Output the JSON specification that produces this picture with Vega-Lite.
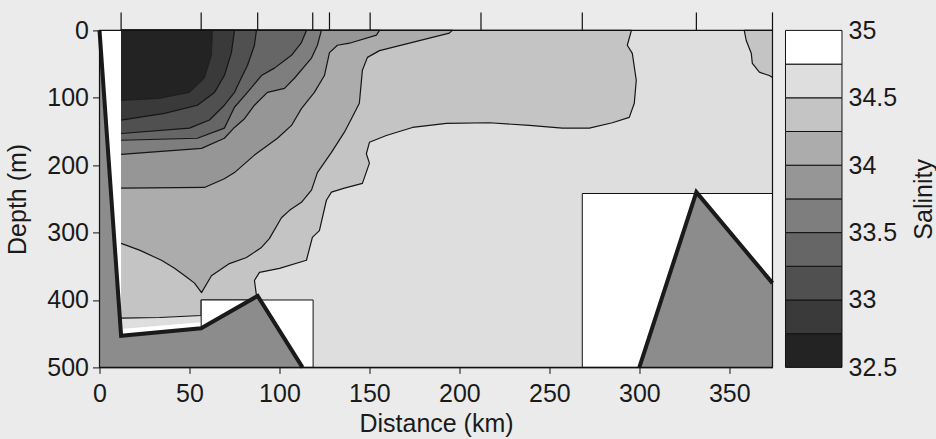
{
  "$schema": "https://vega.github.io/schema/vega-lite/v6.json",
  "autosize": {"type": "pad"},
  "padding": {"left": 5.5, "top": 9.4, "right": 0, "bottom": 4},
  "background": "#ebebeb",
  "bounds": "flush",
  "spacing": 13,
  "config": {
    "view": {"fill": "white", "stroke": null},
    "font": "Liberation Sans",
    "axis": {
      "labelFont": "Liberation Sans", "titleFont": "Liberation Sans",
      "labelFontSize": 25, "titleFontSize": 25, "titleFontWeight": "normal",
      "labelColor": "#1a1a1a", "titleColor": "#1a1a1a",
      "domainColor": "#111", "tickColor": "#111", "grid": false, "labelFlush": false
    }
  },
  "datasets": {
    "poly": [
      {"poly":"p1","band":32.5,"ord":0,"km":12,"m":0},{"poly":"p1","band":32.5,"ord":1,"km":62.8,"m":0},{"poly":"p1","band":32.5,"ord":2,"km":62.2,"m":37},{"poly":"p1","band":32.5,"ord":3,"km":58.3,"m":71},{"poly":"p1","band":32.5,"ord":4,"km":50,"m":92},{"poly":"p1","band":32.5,"ord":5,"km":33.3,"m":101},{"poly":"p1","band":32.5,"ord":6,"km":12,"m":104},
      {"poly":"p2","band":32.75,"ord":0,"km":12,"m":0},{"poly":"p2","band":32.75,"ord":1,"km":75,"m":0},{"poly":"p2","band":32.75,"ord":2,"km":73.3,"m":33},{"poly":"p2","band":32.75,"ord":3,"km":69.4,"m":67},{"poly":"p2","band":32.75,"ord":4,"km":63.9,"m":92},{"poly":"p2","band":32.75,"ord":5,"km":54.4,"m":111},{"poly":"p2","band":32.75,"ord":6,"km":36.1,"m":123},{"poly":"p2","band":32.75,"ord":7,"km":12,"m":133},
      {"poly":"p3","band":33,"ord":0,"km":12,"m":0},{"poly":"p3","band":33,"ord":1,"km":87.2,"m":0},{"poly":"p3","band":33,"ord":2,"km":86.1,"m":22},{"poly":"p3","band":33,"ord":3,"km":82.2,"m":52},{"poly":"p3","band":33,"ord":4,"km":76.7,"m":82},{"poly":"p3","band":33,"ord":5,"km":75,"m":92},{"poly":"p3","band":33,"ord":6,"km":69.4,"m":111},{"poly":"p3","band":33,"ord":7,"km":61.1,"m":133},{"poly":"p3","band":33,"ord":8,"km":50,"m":145},{"poly":"p3","band":33,"ord":9,"km":12,"m":153},
      {"poly":"p4","band":33.25,"ord":0,"km":12,"m":0},{"poly":"p4","band":33.25,"ord":1,"km":115,"m":0},{"poly":"p4","band":33.25,"ord":2,"km":112.2,"m":18},{"poly":"p4","band":33.25,"ord":3,"km":106.7,"m":37},{"poly":"p4","band":33.25,"ord":4,"km":97.2,"m":56},{"poly":"p4","band":33.25,"ord":5,"km":90,"m":67},{"poly":"p4","band":33.25,"ord":6,"km":82.2,"m":92},{"poly":"p4","band":33.25,"ord":7,"km":75,"m":114},{"poly":"p4","band":33.25,"ord":8,"km":69.4,"m":145},{"poly":"p4","band":33.25,"ord":9,"km":54.4,"m":160},{"poly":"p4","band":33.25,"ord":10,"km":12,"m":163},
      {"poly":"p5","band":33.5,"ord":0,"km":12,"m":0},{"poly":"p5","band":33.5,"ord":1,"km":123.3,"m":0},{"poly":"p5","band":33.5,"ord":2,"km":121.1,"m":22},{"poly":"p5","band":33.5,"ord":3,"km":117.8,"m":41},{"poly":"p5","band":33.5,"ord":4,"km":108.3,"m":71},{"poly":"p5","band":33.5,"ord":5,"km":102.8,"m":86},{"poly":"p5","band":33.5,"ord":6,"km":93.3,"m":92},{"poly":"p5","band":33.5,"ord":7,"km":86.1,"m":111},{"poly":"p5","band":33.5,"ord":8,"km":80.6,"m":131},{"poly":"p5","band":33.5,"ord":9,"km":75,"m":144},{"poly":"p5","band":33.5,"ord":10,"km":69.4,"m":160},{"poly":"p5","band":33.5,"ord":11,"km":56.7,"m":175},{"poly":"p5","band":33.5,"ord":12,"km":12,"m":184},
      {"poly":"p6","band":33.75,"ord":0,"km":12,"m":0},{"poly":"p6","band":33.75,"ord":1,"km":155.6,"m":0},{"poly":"p6","band":33.75,"ord":2,"km":153.9,"m":7},{"poly":"p6","band":33.75,"ord":3,"km":138.9,"m":19},{"poly":"p6","band":33.75,"ord":4,"km":132.2,"m":22},{"poly":"p6","band":33.75,"ord":5,"km":127.8,"m":33},{"poly":"p6","band":33.75,"ord":6,"km":125,"m":67},{"poly":"p6","band":33.75,"ord":7,"km":119.4,"m":92},{"poly":"p6","band":33.75,"ord":8,"km":112.2,"m":116},{"poly":"p6","band":33.75,"ord":9,"km":106.7,"m":141},{"poly":"p6","band":33.75,"ord":10,"km":98.9,"m":160},{"poly":"p6","band":33.75,"ord":11,"km":86.1,"m":185},{"poly":"p6","band":33.75,"ord":12,"km":75,"m":211},{"poly":"p6","band":33.75,"ord":13,"km":69.4,"m":220},{"poly":"p6","band":33.75,"ord":14,"km":58.3,"m":233},{"poly":"p6","band":33.75,"ord":15,"km":12,"m":234},
      {"poly":"p7","band":34,"ord":0,"km":12,"m":0},{"poly":"p7","band":34,"ord":1,"km":196.1,"m":0},{"poly":"p7","band":34,"ord":2,"km":194.4,"m":4},{"poly":"p7","band":34,"ord":3,"km":155.6,"m":30},{"poly":"p7","band":34,"ord":4,"km":148.9,"m":40},{"poly":"p7","band":34,"ord":5,"km":146.1,"m":59},{"poly":"p7","band":34,"ord":6,"km":144.4,"m":108},{"poly":"p7","band":34,"ord":7,"km":140,"m":131},{"poly":"p7","band":34,"ord":8,"km":136.1,"m":151},{"poly":"p7","band":34,"ord":9,"km":128.9,"m":181},{"poly":"p7","band":34,"ord":10,"km":121.1,"m":211},{"poly":"p7","band":34,"ord":11,"km":117.8,"m":237},{"poly":"p7","band":34,"ord":12,"km":112.2,"m":255},{"poly":"p7","band":34,"ord":13,"km":105.6,"m":267},{"poly":"p7","band":34,"ord":14,"km":101.1,"m":278},{"poly":"p7","band":34,"ord":15,"km":94.4,"m":309},{"poly":"p7","band":34,"ord":16,"km":90,"m":322},{"poly":"p7","band":34,"ord":17,"km":81.7,"m":337},{"poly":"p7","band":34,"ord":18,"km":72.2,"m":346},{"poly":"p7","band":34,"ord":19,"km":62.2,"m":364},{"poly":"p7","band":34,"ord":20,"km":56.7,"m":389},{"poly":"p7","band":34,"ord":21,"km":52.8,"m":375},{"poly":"p7","band":34,"ord":22,"km":48.9,"m":367},{"poly":"p7","band":34,"ord":23,"km":41.7,"m":353},{"poly":"p7","band":34,"ord":24,"km":34.4,"m":341},{"poly":"p7","band":34,"ord":25,"km":22.2,"m":326},{"poly":"p7","band":34,"ord":26,"km":12,"m":316},
      {"poly":"p8","band":34.25,"ord":0,"km":12,"m":0},{"poly":"p8","band":34.25,"ord":1,"km":295.6,"m":0},{"poly":"p8","band":34.25,"ord":2,"km":293.3,"m":22},{"poly":"p8","band":34.25,"ord":3,"km":296.1,"m":34},{"poly":"p8","band":34.25,"ord":4,"km":298.3,"m":74},{"poly":"p8","band":34.25,"ord":5,"km":297.2,"m":108},{"poly":"p8","band":34.25,"ord":6,"km":294.4,"m":129},{"poly":"p8","band":34.25,"ord":7,"km":285,"m":137},{"poly":"p8","band":34.25,"ord":8,"km":272.2,"m":145},{"poly":"p8","band":34.25,"ord":9,"km":257.2,"m":145},{"poly":"p8","band":34.25,"ord":10,"km":238.9,"m":141},{"poly":"p8","band":34.25,"ord":11,"km":216.7,"m":137},{"poly":"p8","band":34.25,"ord":12,"km":192.8,"m":138},{"poly":"p8","band":34.25,"ord":13,"km":173.9,"m":144},{"poly":"p8","band":34.25,"ord":14,"km":159.4,"m":156},{"poly":"p8","band":34.25,"ord":15,"km":150,"m":166},{"poly":"p8","band":34.25,"ord":16,"km":148.3,"m":183},{"poly":"p8","band":34.25,"ord":17,"km":150,"m":197},{"poly":"p8","band":34.25,"ord":18,"km":146.1,"m":227},{"poly":"p8","band":34.25,"ord":19,"km":136.1,"m":234},{"poly":"p8","band":34.25,"ord":20,"km":128.9,"m":240},{"poly":"p8","band":34.25,"ord":21,"km":126.1,"m":252},{"poly":"p8","band":34.25,"ord":22,"km":122.2,"m":297},{"poly":"p8","band":34.25,"ord":23,"km":118.3,"m":307},{"poly":"p8","band":34.25,"ord":24,"km":115,"m":341},{"poly":"p8","band":34.25,"ord":25,"km":100,"m":353},{"poly":"p8","band":34.25,"ord":26,"km":88.9,"m":359},{"poly":"p8","band":34.25,"ord":27,"km":86.1,"m":371},{"poly":"p8","band":34.25,"ord":28,"km":87.2,"m":393},{"poly":"p8","band":34.25,"ord":29,"km":87.8,"m":400},{"poly":"p8","band":34.25,"ord":30,"km":56.5,"m":400},{"poly":"p8","band":34.25,"ord":31,"km":56.5,"m":423},{"poly":"p8","band":34.25,"ord":32,"km":33.3,"m":426},{"poly":"p8","band":34.25,"ord":33,"km":12,"m":427},
      {"poly":"p9","band":34.25,"ord":0,"km":374,"m":0},{"poly":"p9","band":34.25,"ord":1,"km":358.3,"m":0},{"poly":"p9","band":34.25,"ord":2,"km":359.4,"m":15},{"poly":"p9","band":34.25,"ord":3,"km":362.2,"m":34},{"poly":"p9","band":34.25,"ord":4,"km":362.8,"m":49},{"poly":"p9","band":34.25,"ord":5,"km":366.7,"m":62},{"poly":"p9","band":34.25,"ord":6,"km":372.2,"m":67},{"poly":"p9","band":34.25,"ord":7,"km":374,"m":70}
    ],
    "topo": [
      {"part":"L","ord":0,"km":0,"m":500},{"part":"L","ord":1,"km":0,"m":0},{"part":"L","ord":2,"km":12,"m":453},{"part":"L","ord":3,"km":56.5,"m":442},{"part":"L","ord":4,"km":87.9,"m":394},{"part":"L","ord":5,"km":112.8,"m":500},
      {"part":"R","ord":0,"km":374,"m":500},{"part":"R","ord":1,"km":300,"m":500},{"part":"R","ord":2,"km":331.7,"m":240},{"part":"R","ord":3,"km":374,"m":375},
      {"part":"S","ord":0,"km":12,"m":443},{"part":"S","ord":1,"km":56.5,"m":433},{"part":"S","ord":2,"km":56.5,"m":442},{"part":"S","ord":3,"km":12,"m":453}
    ],
    "regions": [
      {"r":"field","x1":12,"x2":374,"y1":0,"y2":500},
      {"r":"box","x1":56.5,"x2":118.7,"y1":400,"y2":500},
      {"r":"box","x1":268.3,"x2":374,"y1":242,"y2":500},
      {"r":"frame","x1":0,"x2":374,"y1":0,"y2":500}
    ],
    "stations": [
      {"km":12,"m":0},{"km":56.5,"m":0},{"km":87.9,"m":0},{"km":118.5,"m":0},{"km":127.8,"m":0},{"km":150.4,"m":0},{"km":212,"m":0},{"km":268.3,"m":0},{"km":331.7,"m":0},{"km":374,"m":0}
    ],
    "bands": [
      {"band":32.5,"hi":32.75},{"band":32.75,"hi":33},{"band":33,"hi":33.25},{"band":33.25,"hi":33.5},{"band":33.5,"hi":33.75},
      {"band":33.75,"hi":34},{"band":34,"hi":34.25},{"band":34.25,"hi":34.5},{"band":34.5,"hi":34.75},{"band":34.75,"hi":35}
    ]
  },
  "hconcat": [
    {
      "width": 673,
      "height": 337,
      "data": {"name": "poly"},
      "encoding": {
        "x": {"field": "km", "type": "quantitative",
          "scale": {"domain": [0, 374], "nice": false, "zero": false},
          "axis": {"values": [0, 50, 100, 150, 200, 250, 300, 350], "title": "Distance (km)", "tickSize": 6, "labelPadding": 8, "titleY": 44, "titleBaseline": "top"}},
        "y": {"field": "m", "type": "quantitative",
          "scale": {"domain": [0, 500], "reverse": true, "nice": false, "zero": false},
          "axis": {"values": [0, 100, 200, 300, 400, 500], "title": "Depth (m)", "tickSize": 7, "labelPadding": 4, "titleX": -82, "titleY": 168.5, "titleAngle": 270, "titleAlign": "center", "titleBaseline": "middle"}}
      },
      "layer": [
        {"data": {"name": "regions"}, "transform": [{"filter": "datum.r == 'field'"}], "mark": {"type": "rect", "fill": "#dedede"},
         "encoding": {"x": {"field": "x1", "type": "quantitative"}, "x2": {"field": "x2"}, "y": {"field": "y1", "type": "quantitative"}, "y2": {"field": "y2"}}},
        {"transform": [{"filter": "datum.band == 34.25"}], "mark": {"type": "line", "stroke": "#151515", "strokeWidth": 1.2, "strokeJoin": "round"},
         "encoding": {"detail": {"field": "poly"}, "order": {"field": "ord"}, "fill": {"field": "band", "type": "ordinal", "legend": null}}},
        {"transform": [{"filter": "datum.poly == 'p7'"}], "mark": {"type": "line", "stroke": "#151515", "strokeWidth": 1.2, "strokeJoin": "round"},
         "encoding": {"order": {"field": "ord"}, "fill": {"field": "band", "type": "ordinal", "legend": null}}},
        {"transform": [{"filter": "datum.poly == 'p6'"}], "mark": {"type": "line", "stroke": "#151515", "strokeWidth": 1.2, "strokeJoin": "round"},
         "encoding": {"order": {"field": "ord"}, "fill": {"field": "band", "type": "ordinal", "legend": null}}},
        {"transform": [{"filter": "datum.poly == 'p5'"}], "mark": {"type": "line", "stroke": "#151515", "strokeWidth": 1.2, "strokeJoin": "round"},
         "encoding": {"order": {"field": "ord"}, "fill": {"field": "band", "type": "ordinal", "legend": null}}},
        {"transform": [{"filter": "datum.poly == 'p4'"}], "mark": {"type": "line", "stroke": "#151515", "strokeWidth": 1.2, "strokeJoin": "round"},
         "encoding": {"order": {"field": "ord"}, "fill": {"field": "band", "type": "ordinal", "legend": null}}},
        {"transform": [{"filter": "datum.poly == 'p3'"}], "mark": {"type": "line", "stroke": "#151515", "strokeWidth": 1.2, "strokeJoin": "round"},
         "encoding": {"order": {"field": "ord"}, "fill": {"field": "band", "type": "ordinal", "legend": null}}},
        {"transform": [{"filter": "datum.poly == 'p2'"}], "mark": {"type": "line", "stroke": "#151515", "strokeWidth": 1.2, "strokeJoin": "round"},
         "encoding": {"order": {"field": "ord"}, "fill": {"field": "band", "type": "ordinal", "legend": null}}},
        {"transform": [{"filter": "datum.poly == 'p1'"}], "mark": {"type": "line", "stroke": "#151515", "strokeWidth": 1.0, "strokeOpacity": 0.6, "strokeJoin": "round"},
         "encoding": {"order": {"field": "ord"}, "fill": {"field": "band", "type": "ordinal", "legend": null}}},
        {"data": {"name": "topo"}, "transform": [{"filter": "datum.part == 'S'"}], "mark": {"type": "line", "fill": "white", "stroke": "transparent"},
         "encoding": {"order": {"field": "ord"}}},
        {"data": {"name": "regions"}, "transform": [{"filter": "datum.r == 'box'"}], "mark": {"type": "rect", "fill": "white", "stroke": "#111", "strokeWidth": 1},
         "encoding": {"x": {"field": "x1", "type": "quantitative"}, "x2": {"field": "x2"}, "y": {"field": "y1", "type": "quantitative"}, "y2": {"field": "y2"}}},
        {"data": {"name": "topo"}, "transform": [{"filter": "datum.part != 'S'"}], "mark": {"type": "line", "fill": "#8c8c8c", "stroke": "transparent"},
         "encoding": {"detail": {"field": "part"}, "order": {"field": "ord"}}},
        {"data": {"name": "topo"}, "transform": [{"filter": "datum.part != 'S' && datum.ord > 0"}], "mark": {"type": "line", "stroke": "#1a1a1a", "strokeWidth": 4, "strokeJoin": "miter"},
         "encoding": {"detail": {"field": "part"}, "order": {"field": "ord"}}},
        {"data": {"name": "stations"}, "mark": {"type": "point", "shape": "M0,0L0,-1", "size": 1296, "filled": false, "stroke": "#111", "strokeWidth": 1.2, "opacity": 1}},
        {"data": {"name": "regions"}, "transform": [{"filter": "datum.r == 'frame'"}], "mark": {"type": "rect", "fill": "transparent", "stroke": "#111", "strokeWidth": 1.2},
         "encoding": {"x": {"field": "x1", "type": "quantitative"}, "x2": {"field": "x2"}, "y": {"field": "y1", "type": "quantitative"}, "y2": {"field": "y2"}}}
      ]
    },
    {
      "width": 56.5,
      "height": 337,
      "data": {"name": "bands"},
      "mark": {"type": "rect", "stroke": "#111", "strokeWidth": 1},
      "encoding": {
        "y": {"field": "band", "type": "quantitative",
          "scale": {"domain": [32.5, 35], "nice": false, "zero": false},
          "axis": {"orient": "right", "values": [32.5, 33, 33.5, 34, 34.5, 35], "format": "~g", "ticks": false, "tickSize": 0, "domain": false, "labelPadding": 6, "title": "Salinity", "titleAngle": 270, "titleX": 81.5, "titleY": 168.5, "titleAlign": "center", "titleBaseline": "middle"}},
        "y2": {"field": "hi"},
        "fill": {"field": "band", "type": "ordinal", "legend": null,
          "scale": {"domain": [32.5, 32.75, 33, 33.25, 33.5, 33.75, 34, 34.25, 34.5, 34.75],
                    "range": ["#232323", "#3a3a3a", "#505050", "#666666", "#7e7e7e", "#969696", "#acacac", "#c4c4c4", "#dedede", "#ffffff"]}}
      }
    }
  ]
}
